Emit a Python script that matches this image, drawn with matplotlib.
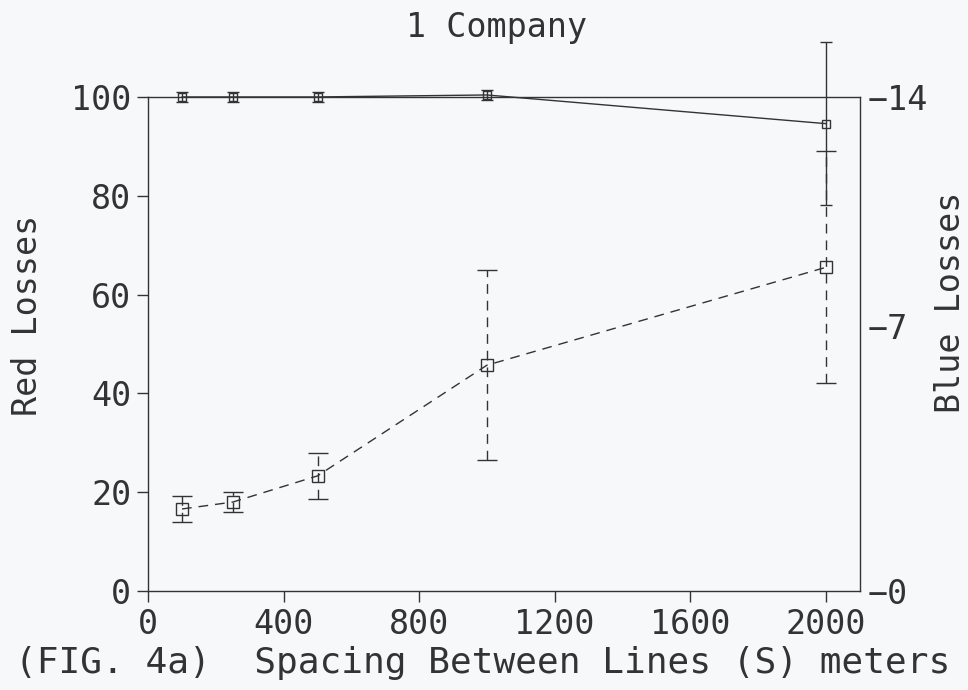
import numpy as np
import matplotlib
matplotlib.use("Agg")
import matplotlib.pyplot as plt

# spacing between lines (meters)
spacing = [100, 250, 500, 1000, 2000]

# upper (solid) series and its error half-widths
solid_vals = [100.0, 100.0, 100.0, 100.4, 94.6]
solid_err = [1.0, 1.0, 1.0, 1.0, 16.5]

# lower (dashed) series and its error half-widths
dashed_vals = [16.6, 18.0, 23.3, 45.7, 65.5]
dashed_err = [2.6, 2.1, 4.7, 19.2, 23.5]

xticks = [0, 400, 800, 1200, 1600, 2000]
yticks = [0, 20, 40, 60, 80, 100]
blue_ticks = [0, 7.5, 14]
blue_labels = ["\u22120", "\u22127", "\u221214"]

ink = "#333333"
paper = "#f6f8fa"
fs = 24
W, H = 968, 690

# plotter-style lettering is evenly spaced, a monospace sans face is closest
plt.rcParams["font.family"] = ["DejaVu Sans Mono", "DejaVu Sans"]

fig = plt.figure(figsize=(W / 100, H / 100), dpi=100, facecolor=paper)
ax = fig.add_axes([0.153, 0.1435, 0.735, 0.716])
ax.set_facecolor(paper)

dash = (0, (7, 5))

# solid series
eb1 = ax.errorbar(spacing, solid_vals, yerr=solid_err, color=ink, lw=1.0,
                  marker="s", ms=6, mfc="none", mec=ink, mew=1.0,
                  capsize=4, elinewidth=1.0, capthick=1.0, clip_on=False, zorder=3)
for art in eb1[1] + eb1[2]:
    art.set_clip_on(False)

# dashed series
eb2 = ax.errorbar(spacing, dashed_vals, yerr=dashed_err, color=ink, lw=1.0,
                  ls=dash, marker="s", ms=9, mfc="none", mec=ink, mew=1.0,
                  capsize=7, elinewidth=1.0, capthick=1.0, clip_on=False, zorder=3)
for art in eb2[1]:
    art.set_clip_on(False)
for art in eb2[2]:
    art.set_linestyle(dash)
    art.set_clip_on(False)

ax.set_xlim(0, 2100)
ax.set_ylim(0, 100)
ax.set_xticks(xticks)
ax.set_yticks(yticks)
ax.tick_params(axis="both", direction="out", length=8, width=1.0, color=ink,
               labelsize=fs, labelcolor=ink, pad=4)
for sp in ax.spines.values():
    sp.set_color(ink)
    sp.set_linewidth(1.0)

ax2 = ax.twinx()
ax2.set_ylim(0, 14)
ax2.set_yticks(blue_ticks)
ax2.set_yticklabels(blue_labels)
ax2.tick_params(axis="y", length=0, labelsize=fs, labelcolor=ink, pad=6)
for sp in ax2.spines.values():
    sp.set_visible(False)

# labels placed by pixel centre of the reference
fig.text(497 / W, 1 - 28 / H, "1 Company", fontsize=fs, color=ink,
         ha="center", va="center")
fig.text(28 / W, 1 - 315 / H, "Red Losses", fontsize=fs, color=ink,
         ha="center", va="center", rotation=90)
fig.text(950 / W, 1 - 302 / H, "Blue Losses", fontsize=fs, color=ink,
         ha="center", va="center", rotation=90)
fig.text(483 / W, 1 - 663 / H, "(FIG. 4a)  Spacing Between Lines (S) meters",
         fontsize=26, color=ink, ha="center", va="center")

fig.savefig("out.png", dpi=100, facecolor=paper)
